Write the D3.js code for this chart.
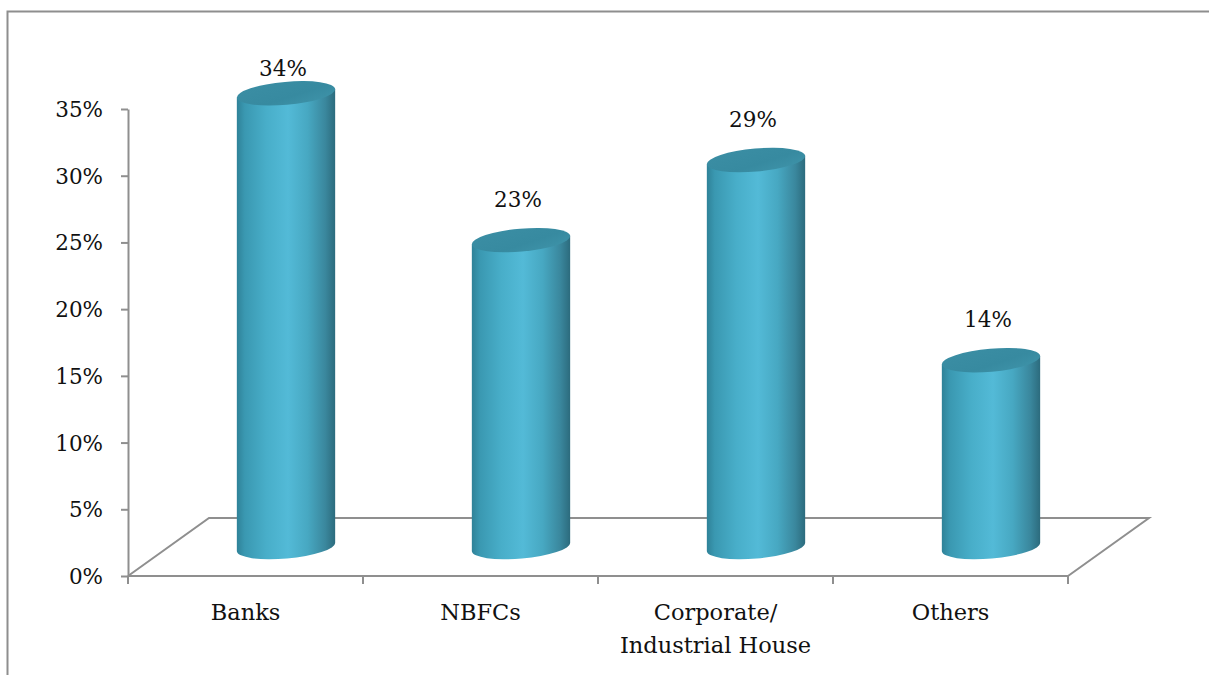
<!DOCTYPE html>
<html>
<head>
<meta charset="utf-8">
<script src="https://cdn.jsdelivr.net/npm/d3@7"></script>
<style>
  html, body { margin: 0; padding: 0; background: #fff; }
  svg { display: block; }
  text { font-family: "Palatino Linotype", "Book Antiqua", Palatino, "DejaVu Serif", serif; fill: #111; }
</style>
</head>
<body>
<svg id="chart" width="1209" height="675"></svg>
<script>
// Share of entities by type
const categories = ["Banks", "NBFCs", "Corporate/\nIndustrial House", "Others"];
const values = [0.34, 0.23, 0.29, 0.14];
const valueLabels = ["34%", "23%", "29%", "14%"];
const yTicks = [0, 0.05, 0.10, 0.15, 0.20, 0.25, 0.30, 0.35];

const svg = d3.select("#chart");
const W = 1209, H = 675;
const fontSize = 21.5;
const catFontSize = 22.5;

// plot frame (front plane) and 3D depth offset of the floor
const plotL = 128, plotR = 1068, plotB = 576, plotT = 109;
const depthX = 81, depthY = -58;

const x = d3.scaleBand().domain(categories).range([plotL, plotR]).padding(0);
const y = d3.scaleLinear().domain([0, 0.35]).range([plotB, plotT]);

// outer chart border
svg.append("rect")
  .attr("x", 7.5).attr("y", 11.5)
  .attr("width", W + 100).attr("height", H + 100)
  .attr("fill", "none").attr("stroke", "#8e8e8e").attr("stroke-width", 2);

// gradients for cylinder body and cap
const defs = svg.append("defs");
const body = defs.append("linearGradient").attr("id", "cylBody")
  .attr("x1", "0%").attr("x2", "100%").attr("y1", "0%").attr("y2", "0%");
[[0, "#2f8298"], [0.08, "#3a98b1"], [0.3, "#48aec9"], [0.52, "#53bad7"], [0.72, "#47a8c2"], [0.9, "#3a879d"], [1, "#2c6b7d"]]
  .forEach(([o, c]) => body.append("stop").attr("offset", o).attr("stop-color", c));
const cap = defs.append("linearGradient").attr("id", "cylCap")
  .attr("x1", "0%").attr("x2", "100%").attr("y1", "0%").attr("y2", "100%");
[[0, "#3b8ea4"], [0.6, "#378aa0"], [1, "#3f94aa"]]
  .forEach(([o, c]) => cap.append("stop").attr("offset", o).attr("stop-color", c));

// floor outline
const floorColor = "#8f8f8f";
const floor = svg.append("g").attr("stroke", floorColor).attr("stroke-width", 2).attr("fill", "none");
floor.append("path").attr("d", `M${plotL},${plotB} L${plotL + depthX},${plotB + depthY} L${plotR + depthX},${plotB + depthY} L${plotR},${plotB}`);

// y axis
const yAxis = d3.axisLeft(y).tickValues(yTicks).tickFormat(d3.format(".0%"))
  .tickSize(7).tickSizeOuter(0).tickPadding(18);
const ya = svg.append("g").attr("transform", `translate(${plotL},0)`).call(yAxis);
ya.select(".domain").attr("stroke", floorColor).attr("stroke-width", 2);
ya.selectAll(".tick line").attr("stroke", floorColor).attr("stroke-width", 2);
ya.selectAll(".tick text").attr("font-size", fontSize).attr("font-family", null).attr("fill", "#111").attr("dy", "0.35em");

// x axis front edge with boundary ticks
const xa = svg.append("g");
xa.append("line").attr("x1", plotL).attr("x2", plotR).attr("y1", plotB).attr("y2", plotB)
  .attr("stroke", floorColor).attr("stroke-width", 2);
const bounds = categories.map(c => x(c)).concat([plotR]);
xa.selectAll("line.tk").data(bounds).join("line").attr("class", "tk")
  .attr("x1", d => d).attr("x2", d => d).attr("y1", plotB).attr("y2", plotB + 8)
  .attr("stroke", floorColor).attr("stroke-width", 2);

// category labels (multi-line where needed)
categories.forEach(c => {
  const lines = c.split("\n");
  const cxl = x(c) + x.bandwidth() / 2;
  const t = svg.append("text").attr("text-anchor", "middle").attr("font-size", catFontSize)
    .attr("x", cxl).attr("y", 620);
  lines.forEach((ln, i) => t.append("tspan").attr("x", cxl).attr("dy", i === 0 ? 0 : 33).text(ln));
});

// cylinders, placed at the middle of the floor depth
const rx = x.bandwidth() * 0.21, ry = 11.5, rot = -5;
const rad = rot * Math.PI / 180;
const ex = rx * Math.cos(rad), ey = rx * Math.sin(rad);

categories.forEach((c, i) => {
  const cx = x(c) + x.bandwidth() / 2 + depthX / 2;
  const yBot = y(0) + depthY / 2;
  const yTop = y(values[i]) + depthY / 2;
  const g = svg.append("g");
  g.append("path")
    .attr("d", `M${cx - ex},${yTop - ey} L${cx - ex},${yBot - ey} A${rx},${ry} ${rot} 0 0 ${cx + ex},${yBot + ey} L${cx + ex},${yTop + ey} Z`)
    .attr("fill", "url(#cylBody)");
  g.append("ellipse")
    .attr("cx", 0).attr("cy", 0).attr("rx", rx).attr("ry", ry)
    .attr("transform", `translate(${cx},${yTop}) rotate(${rot})`)
    .attr("fill", "url(#cylCap)");
  // value label above the cap, kept inside the chart area
  svg.append("text").attr("text-anchor", "middle").attr("font-size", fontSize)
    .attr("x", cx - 3).attr("y", Math.max(yTop - 33, 76))
    .text(valueLabels[i]);
});
</script>
</body>
</html>
